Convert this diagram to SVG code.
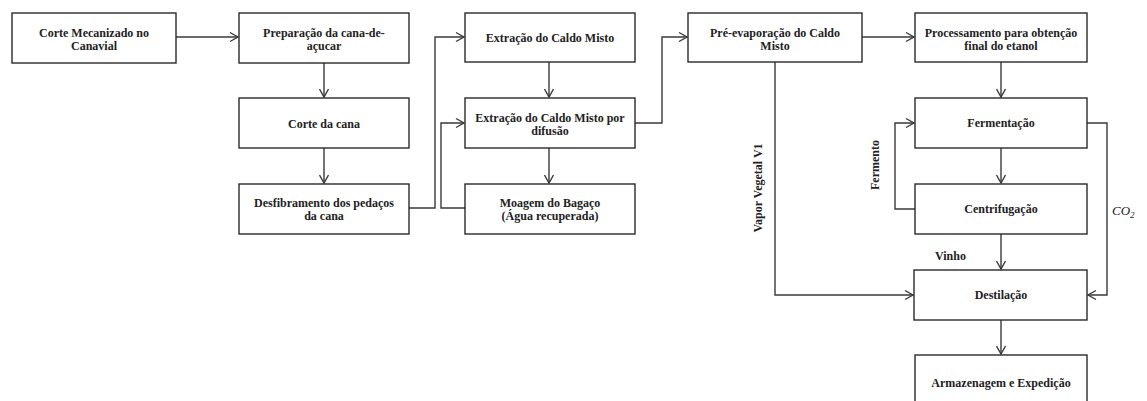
<svg xmlns="http://www.w3.org/2000/svg" width="1147" height="401" viewBox="0 0 1147 401" font-family="Liberation Serif, Times New Roman, serif">
<style>
.box{fill:#fff;stroke:#2a2a2a;stroke-width:1.4}
.t{font-weight:bold;font-size:12px;fill:#222;text-anchor:middle}
.c{fill:none;stroke:#3a3a3a;stroke-width:1.4}
.lbl{font-weight:bold;font-size:12px;fill:#222}
</style>
<defs>
<marker id="ah" markerWidth="12" markerHeight="12" refX="9" refY="6" orient="auto" markerUnits="userSpaceOnUse">
<path d="M1,1.5 L9,6 L1,10.5" fill="none" stroke="#3a3a3a" stroke-width="1.4"/>
</marker>
</defs>
<rect width="1147" height="401" fill="#fff"/>
<g id="connectors">
<line class="c" x1="176" y1="37" x2="238" y2="37" marker-end="url(#ah)"/>
<line class="c" x1="324" y1="63" x2="324" y2="97" marker-end="url(#ah)"/>
<line class="c" x1="324" y1="148" x2="324" y2="183" marker-end="url(#ah)"/>
<polyline class="c" points="409,208 435,208 435,37 464,37" marker-end="url(#ah)"/>
<polyline class="c" points="465,208 441,208 441,123 464,123" marker-end="url(#ah)"/>
<line class="c" x1="549" y1="62" x2="549" y2="97" marker-end="url(#ah)"/>
<line class="c" x1="549" y1="148" x2="549" y2="183" marker-end="url(#ah)"/>
<polyline class="c" points="635,123 662,123 662,37 687,37" marker-end="url(#ah)"/>
<line class="c" x1="862" y1="37" x2="914" y2="37" marker-end="url(#ah)"/>
<line class="c" x1="1001" y1="62" x2="1001" y2="97" marker-end="url(#ah)"/>
<line class="c" x1="1001" y1="148" x2="1001" y2="183" marker-end="url(#ah)"/>
<line class="c" x1="1001" y1="234" x2="1001" y2="269" marker-end="url(#ah)"/>
<line class="c" x1="1001" y1="320" x2="1001" y2="354" marker-end="url(#ah)"/>
<polyline class="c" points="915,209 895,209 895,123 914,123" marker-end="url(#ah)"/>
<polyline class="c" points="1087,123 1107,123 1107,295 1088,295" marker-end="url(#ah)"/>
<polyline class="c" points="775,62 775,295 913,295" marker-end="url(#ah)"/>
<text class="lbl" transform="translate(762,188) rotate(-90)" text-anchor="middle">Vapor Vegetal V1</text>
<text class="lbl" transform="translate(879,165) rotate(-90)" text-anchor="middle">Fermento</text>
<text class="lbl" x="935" y="260" font-size="11">Vinho</text>
<text x="1112" y="215" font-style="italic" font-size="13" fill="#222">CO<tspan font-size="9" dy="3">2</tspan></text>
</g>
<g id="n1"><rect class="box" x="12" y="13" width="164" height="50"/><text class="t" x="94" y="37">Corte Mecanizado no</text><text class="t" x="94" y="50">Canavial</text></g>
<g id="n2"><rect class="box" x="239" y="13" width="170" height="50"/><text class="t" x="324" y="37">Preparação da cana-de-</text><text class="t" x="324" y="50">açucar</text></g>
<g id="n3"><rect class="box" x="239" y="98" width="170" height="50"/><text class="t" x="324" y="128">Corte da cana</text></g>
<g id="n4"><rect class="box" x="239" y="184" width="170" height="50"/><text class="t" x="324" y="207">Desfibramento dos pedaços</text><text class="t" x="324" y="220">da cana</text></g>
<g id="n5"><rect class="box" x="465" y="13" width="170" height="49"/><text class="t" x="550" y="42">Extração do Caldo Misto</text></g>
<g id="n6"><rect class="box" x="465" y="98" width="170" height="50"/><text class="t" x="550" y="122">Extração do Caldo Misto por</text><text class="t" x="550" y="135">difusão</text></g>
<g id="n7"><rect class="box" x="465" y="184" width="170" height="50"/><text class="t" x="550" y="207">Moagem do Bagaço</text><text class="t" x="550" y="220">(Água recuperada)</text></g>
<g id="n8"><rect class="box" x="688" y="13" width="174" height="49"/><text class="t" x="775" y="37">Pré-evaporação do Caldo</text><text class="t" x="775" y="50">Misto</text></g>
<g id="n9"><rect class="box" x="915" y="13" width="172" height="49"/><text class="t" x="1001" y="37">Processamento para obtenção</text><text class="t" x="1001" y="50">final do etanol</text></g>
<g id="n10"><rect class="box" x="915" y="98" width="172" height="50"/><text class="t" x="1001" y="127">Fermentação</text></g>
<g id="n11"><rect class="box" x="915" y="184" width="172" height="50"/><text class="t" x="1001" y="213">Centrifugação</text></g>
<g id="n12"><rect class="box" x="914" y="270" width="173" height="50"/><text class="t" x="1001" y="299">Destilação</text></g>
<g id="n13"><rect class="box" x="915" y="355" width="172" height="50"/><text class="t" x="1001" y="387">Armazenagem e Expedição</text></g>
</svg>
